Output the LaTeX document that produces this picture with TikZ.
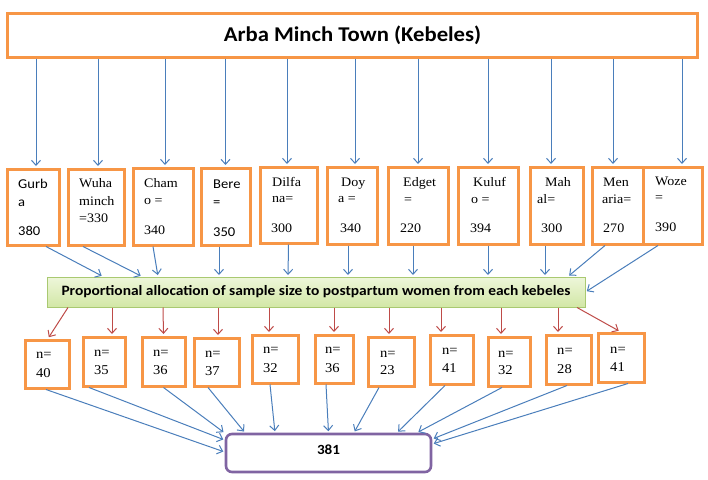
\documentclass[tikz,border=0pt]{standalone}
\usepackage{fontspec}
\setmainfont{Liberation Serif}[FakeStretch=1.08]
\newfontfamily\calib{Carlito}[FakeStretch=1.08]
\usetikzlibrary{arrows.meta,fit,calc}
\definecolor{oc}{HTML}{F79646}
\definecolor{bc}{HTML}{4A7EBB}
\definecolor{rc}{HTML}{BE4B48}
\definecolor{pc}{HTML}{8064A2}
\definecolor{gtop}{HTML}{EEF6DA}
\definecolor{gbot}{HTML}{D2E7A6}
\definecolor{gdraw}{HTML}{A9C971}
\tikzset{
  obox/.style={draw=oc, line width=3pt, inner sep=0pt},
  gbox/.style={draw=gdraw, line width=1pt, inner sep=0pt, top color=gtop, bottom color=gbot},
  pbox/.style={draw=pc, line width=2.6pt, inner sep=0pt, rounded corners=6pt},
  barrow/.style={-{Straight Barb[length=5pt,width=9pt]}, draw=bc, line width=1pt, shorten >=1.5pt},
  rarrow/.style={-{Straight Barb[length=5pt,width=9pt]}, draw=rc, line width=1pt, shorten >=1.5pt},
  kser/.style={anchor=base west, inner sep=0pt, font=\fontsize{13}{15}\selectfont},
  ksan/.style={anchor=base west, inner sep=0pt, font=\calib\fontsize{13.5}{15}\selectfont},
  nser/.style={anchor=base west, inner sep=0pt, font=\fontsize{13.5}{15}\selectfont},
}
\newcommand\mkbox[5]{\node[obox, fit={(#2,#3) (#4,#5)}] (#1) {};}
\newcommand\ktx[5]{\node[#2] (#1) at (#3,#4) {#5};}
\begin{document}
\begin{tikzpicture}[x=1pt,y=-1pt]
\useasboundingbox (0,0) rectangle (708,479);
% top
\node[obox, fit={(7,13) (697,57)}] (top) {};
\node[font=\calib\bfseries\fontsize{21}{24}\selectfont, inner sep=0pt] (title) at (352.5,35) {Arba Minch Town (Kebeles)};
% kebele boxes
\mkbox{k1}{7}{169}{59}{245}
\mkbox{k2}{68}{169}{124}{245}
\mkbox{k3}{133}{168}{193}{245}
\mkbox{k4}{201}{168}{250}{245}
\mkbox{k5}{260}{167}{317}{243}
\mkbox{k6}{327}{167}{377}{244}
\mkbox{k7}{388}{167}{448}{244}
\mkbox{k8}{458}{167}{518}{244}
\mkbox{k9}{530}{167}{583}{244}
\mkbox{k10}{592}{167}{643}{244}
\mkbox{k11}{643}{167}{702}{244}
% kebele texts
\ktx{t1a}{ksan}{18}{188}{Gurb}
\ktx{t1b}{ksan}{18}{206}{a}
\ktx{t1c}{ksan}{18}{235}{380}
\ktx{t2a}{kser}{79}{187.5}{Wuha}
\ktx{t2b}{kser}{79}{205.5}{minch}
\ktx{t2c}{kser}{79}{222.5}{=330}
\ktx{t3a}{kser}{144}{187}{Cham}
\ktx{t3b}{kser}{144}{204}{o =}
\ktx{t3c}{kser}{144}{234}{340}
\ktx{t4a}{ksan}{213}{188}{Bere}
\ktx{t4b}{ksan}{213}{206}{=}
\ktx{t4c}{ksan}{213}{236}{350}
\ktx{t5a}{kser}{272}{186}{Dilfa}
\ktx{t5b}{kser}{272}{202}{na=}
\ktx{t5c}{kser}{271}{232}{300}
\ktx{t6a}{kser}{341}{186}{Doy}
\ktx{t6b}{kser}{338}{202}{a =}
\ktx{t6c}{kser}{340}{232}{340}
\ktx{t7a}{kser}{403}{186}{Edget}
\ktx{t7b}{kser}{404}{203}{=}
\ktx{t7c}{kser}{400}{232}{220}
\ktx{t8a}{kser}{473}{186}{Kuluf}
\ktx{t8b}{kser}{471}{203}{o =}
\ktx{t8c}{kser}{470}{232}{394}
\ktx{t9a}{kser}{545}{186}{Mah}
\ktx{t9b}{kser}{537}{203}{al=}
\ktx{t9c}{kser}{541}{232}{300}
\ktx{t10a}{kser}{603}{186}{Men}
\ktx{t10b}{kser}{602}{203}{aria=}
\ktx{t10c}{kser}{603}{232}{270}
\ktx{t11a}{kser}{655}{185}{Woze}
\ktx{t11b}{kser}{655}{201}{=}
\ktx{t11c}{kser}{655}{231}{390}
% green box
\node[gbox, fit={(47,277) (585,307)}] (g) {};
\node[font=\calib\bfseries\fontsize{14.3}{17}\selectfont, inner sep=0pt] (gt) at (g.center) {Proportional allocation of sample size to postpartum women from each kebeles};
% n boxes
\mkbox{n1}{25}{340}{69}{388}
\mkbox{n2}{83}{337}{125}{386}
\mkbox{n3}{142}{337}{185}{386}
\mkbox{n4}{194}{338}{239}{386}
\mkbox{n5}{252}{335}{298}{383}
\mkbox{n6}{315}{335}{353}{383}
\mkbox{n7}{368}{337}{414}{386}
\mkbox{n8}{430}{335}{473}{384}
\mkbox{n9}{488}{337}{530}{386}
\mkbox{n10}{546}{335}{591}{384}
\mkbox{n11}{598}{333}{644}{382}
\ktx{m1a}{nser}{36}{358}{n=}
\ktx{m1b}{nser}{36}{377}{40}
\ktx{m2a}{nser}{94}{356}{n=}
\ktx{m2b}{nser}{94}{374}{35}
\ktx{m3a}{nser}{153}{356}{n=}
\ktx{m3b}{nser}{153}{374}{36}
\ktx{m4a}{nser}{205}{357}{n=}
\ktx{m4b}{nser}{205}{375}{37}
\ktx{m5a}{nser}{263}{353}{n=}
\ktx{m5b}{nser}{263}{372}{32}
\ktx{m6a}{nser}{325}{353}{n=}
\ktx{m6b}{nser}{325}{372}{36}
\ktx{m7a}{nser}{380}{357}{n=}
\ktx{m7b}{nser}{380}{374}{23}
\ktx{m8a}{nser}{442}{354}{n=}
\ktx{m8b}{nser}{442}{372}{41}
\ktx{m9a}{nser}{498}{357}{n=}
\ktx{m9b}{nser}{498}{374}{32}
\ktx{m10a}{nser}{557}{354}{n=}
\ktx{m10b}{nser}{557}{373}{28}
\ktx{m11a}{nser}{610}{353}{n=}
\ktx{m11b}{nser}{610}{371}{41}
% total
\node[pbox, fit={(226,434) (431,472)}] (p) {};
\node[font=\calib\bfseries\fontsize{14}{16}\selectfont, inner sep=0pt] (pt) at ($(p.center)+(0,-3)$) {381};
% arrows top -> kebeles
\foreach \k/\d in {k1/3,k2/2,k3/2,k4/0,k5/-1.5,k6/3,k7/0,k8/0,k9/-5.5,k10/-4.5,k11/9.5}
  \draw[barrow] ($(top.south -| \k.north)+(\d,0)$) -- ($(\k.north)+(\d,0)$);
% arrows kebeles -> green
\foreach \k/\s/\e in {k1/13/-213,k2/-13/-174,k3/-10/-158,k4/-6.5/-97,k5/0/-28,k6/-4/32,k7/-5/97,k8/0/172,k9/-11.5/229,k10/-12.5/252}
  \draw[barrow] ($(\k.south)+(\s,0)$) -- ($(g.north)+(\e,0)$);
\draw[barrow] ($(k11.south)+(-14.5,0)$) -- (g.east);
% red arrows green -> n boxes
\foreach \n/\s/\e in {n1/-248/1,n2/-204/8,n3/-153/0,n4/-98/1.5,n5/-47/-6,n6/18/0,n7/73/-2,n8/125/-10.5,n9/185/-8,n10/242/-10.5,n11/261/-1}
  \draw[rarrow] ($(g.south)+(\s,0)$) -- ($(\n.north)+(\e,0)$);
% blue arrows n boxes -> total
\draw[barrow] ($(n1.south)+(-1,0)$) -- ($(p.west)+(0,-1)$);
\draw[barrow] ($(n2.south)+(-15,0)$) -- ($(p.west)+(0,-13)$);
\draw[barrow] ($(n3.south)+(0,0)$) -- ($(p.west)+(0,-20)$);
\foreach \n/\s/\e in {n4/-8.5/-83.5,n5/-5/-53.5,n6/-8/0,n7/-12/25.5,n8/-6.5/68.5,n9/-7/88.5}
  \draw[barrow] ($(\n.south)+(\s,0)$) -- ($(p.north)+(\e,0)$);
\draw[barrow] ($(n10.south)+(-1.5,0)$) -- ($(p.east)+(0,-14)$);
\draw[barrow] ($(n11.south)+(7,0)$) -- ($(p.east)+(0,-9)$);
\end{tikzpicture}
\end{document}
